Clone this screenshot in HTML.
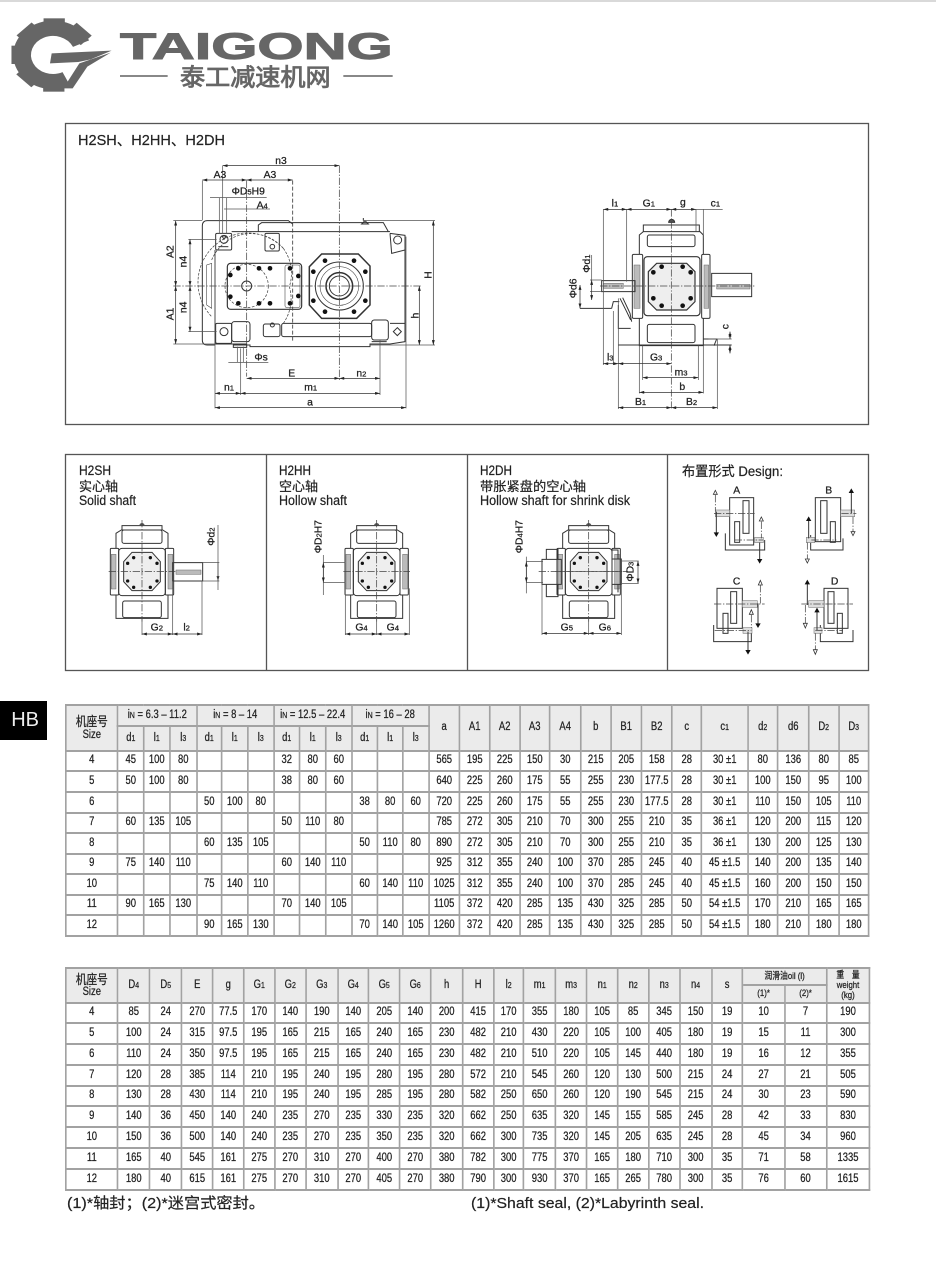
<!DOCTYPE html>
<html lang="zh"><head><meta charset="utf-8"><title>H2SH H2HH H2DH</title>
<style>
html,body{margin:0;padding:0;background:#fff}
#p{position:relative;width:936px;height:1274px;overflow:hidden;background:#fff;filter:blur(.35px);font-family:"Liberation Sans","Noto Sans CJK SC",sans-serif;color:#222}
svg{position:absolute;left:0;top:0}
text{font-family:"Liberation Sans","Noto Sans CJK SC",sans-serif;fill:#222;stroke:#222;stroke-width:.2}
.z{fill:none;stroke:#333;stroke-width:3}
.z text{font-size:31px;stroke:#222;stroke-width:.8}
.z text tspan{font-size:23px}
.t{stroke-width:2.2;stroke:#555}
.c{stroke-width:2.2;stroke:#444;stroke-dasharray:22 5 4 5}
.h{stroke-width:2.6;stroke:#444;stroke-dasharray:12 6}
.d{stroke-width:2.2;stroke:#333;marker-start:url(#a);marker-end:url(#a)}
.k{fill:#111;stroke:none}
.g{fill:#bbb;stroke:#666;stroke-width:1.5}
.o{fill:#fff;stroke:#333;stroke-width:2.4}
table{position:absolute;left:65px;border-collapse:collapse;table-layout:fixed;transform:scaleX(.82);transform-origin:0 0;font-size:11.5px;line-height:1;color:#222;-webkit-text-stroke:.25px #222}
td{border:2px solid #a2a2a2;padding:0;text-align:center;vertical-align:middle;overflow:hidden;white-space:nowrap}
tr.h1 td,td.q{background:#ebebeb}
sub{font-size:8.5px;vertical-align:baseline}
.cn{font-size:13px;line-height:14px}
.sm{font-size:9.5px;line-height:10px}
#hb{position:absolute;left:0;top:701px;width:47px;height:39px;background:#000;color:#eee;font-size:20px;line-height:39px;text-align:right}
#hb span{display:block;padding-right:8px}
</style></head><body><div id="p">
<svg width="936" height="1274" viewBox="0 0 936 1274">
<defs>
<marker id="a" viewBox="0 0 10 6" refX="10" refY="3" markerWidth="7" markerHeight="4" orient="auto-start-reverse"><path d="M0 0L10 3L0 6z" fill="#222"/></marker>
<g id="sg">
<path d="M-60 -125V-138H60V-125M-78 -70V-115L-62 -125H62L78 -115V-70M-78 70V140H78V70"/>
<path class="k" d="M-8 -138a8 8 0 0 1 16 0z" style="fill:#555"/>
<rect x="-60" y="-125" width="120" height="40" rx="6"/>
<rect x="-58" y="88" width="116" height="50" rx="6"/>
<rect x="-95" y="-70" width="25" height="140" rx="3"/>
<rect x="70" y="-70" width="25" height="140" rx="3"/>
<rect class="g" x="-92" y="-52" width="14" height="104"/>
<rect class="g" x="78" y="-52" width="14" height="104"/>
<rect x="-70" y="-70" width="140" height="142" rx="10"/>
<path d="M-30 -58H30L55 -30V30L30 57H-30L-55 30V-30z" fill="#eee"/>
<g class="k"><circle cx="-25" cy="-42" r="5"/><circle cx="25" cy="-42" r="5"/><circle cx="-43" cy="-25" r="5"/><circle cx="45" cy="-25" r="5"/><circle cx="-43" cy="28" r="5"/><circle cx="45" cy="28" r="5"/><circle cx="-25" cy="47" r="5"/><circle cx="25" cy="47" r="5"/></g>
<path class="c" d="M0 -155V150M-100 0H100"/>
</g>
</defs>

<!-- top band and frames -->
<rect x="0" y="0" width="936" height="2" fill="#d9d9d9"/>
<g fill="none" stroke="#555" stroke-width="1.3">
<rect x="65.5" y="123.5" width="803" height="301"/>
<rect x="65.5" y="454.5" width="803" height="216"/>
<path d="M266.5 454V671M467.5 454V671M667.5 454V671"/>
</g>

<!-- logo -->
<g transform="scale(.33333)">
<g fill="#666">
<g transform="translate(162 165) scale(1.16 1) translate(-162 -165)">
<path d="M232 131A80 80 0 1 0 194 237" fill="none" stroke="#666" stroke-width="46"/>
<rect x="135" y="55" width="55" height="40"/>
<rect x="135" y="55" width="55" height="40" transform="rotate(45 162 165)"/>
<rect x="135" y="55" width="55" height="40" transform="rotate(-45 162 165)"/>
<rect x="135" y="55" width="55" height="40" transform="rotate(-90 162 165)"/>
<rect x="135" y="55" width="55" height="40" transform="rotate(-135 162 165)"/>
<rect x="135" y="55" width="55" height="40" transform="rotate(180 162 165)"/>
</g>
<path d="M155 160L335 152L272 178L235 186L150 190z"/>
<path d="M238 190L332 158L262 200L218 265H190z"/>
</g>
<text x="360" y="177" font-size="112" font-weight="700" textLength="818" lengthAdjust="spacingAndGlyphs" style="fill:#666;stroke:#666;stroke-width:3">TAIGONG</text>
<text x="540" y="256" font-size="72" textLength="452" lengthAdjust="spacingAndGlyphs" style="fill:#666;stroke:#666;stroke-width:2.5">泰工减速机网</text>
<path d="M360 228H503M1030 228H1178" stroke="#777" stroke-width="5" fill="none"/>
</g>

<!-- panel headings -->
<text x="78" y="145" font-size="15" textLength="147" lengthAdjust="spacingAndGlyphs">H2SH、H2HH、H2DH</text>
<g font-size="13.5">
<text x="79" y="475" textLength="32" lengthAdjust="spacingAndGlyphs">H2SH</text>
<text x="79" y="491" font-size="13" textLength="39" lengthAdjust="spacingAndGlyphs">实心轴</text>
<text x="79" y="505" textLength="57" lengthAdjust="spacingAndGlyphs">Solid shaft</text>
<text x="279" y="475" textLength="32" lengthAdjust="spacingAndGlyphs">H2HH</text>
<text x="279" y="491" font-size="13" textLength="39" lengthAdjust="spacingAndGlyphs">空心轴</text>
<text x="279" y="505" textLength="68" lengthAdjust="spacingAndGlyphs">Hollow shaft</text>
<text x="480" y="475" textLength="32" lengthAdjust="spacingAndGlyphs">H2DH</text>
<text x="480" y="491" font-size="13" textLength="106" lengthAdjust="spacingAndGlyphs">带胀紧盘的空心轴</text>
<text x="480" y="505" textLength="150" lengthAdjust="spacingAndGlyphs">Hollow shaft for shrink disk</text>
<text x="682" y="476" textLength="101" lengthAdjust="spacingAndGlyphs">布置形式 Design:</text>
</g>

<!-- main front view -->
<g class="z" transform="translate(150,150) scale(.33333)">
<path d="M195 585H172Q157 585 157 570V228Q157 212 172 212H415L428 222"/>
<path d="M325 245V225L335 218H700L715 245M245 245H720M720 250L765 256V300L725 310L720 250"/>
<path d="M765 300V575L720 582H660V590H300V585H250M195 300V582H250"/>
<rect x="197" y="250" width="48" height="50" rx="4"/><circle cx="222" cy="268" r="12"/><path d="M222 268l6 -10h-12z"/><path d="M205 290h30"/>
<rect x="345" y="250" width="43" height="53" rx="4"/><circle cx="367" cy="290" r="7"/>
<circle cx="743" cy="270" r="12"/>
<rect x="197" y="520" width="48" height="60" rx="4"/><circle cx="222" cy="545" r="12"/>
<path d="M720 520H765V575M742 533l12 12l-12 12l-12 -12z"/>
<rect x="245" y="515" width="55" height="60" rx="8"/>
<rect x="340" y="522" width="50" height="38" rx="6"/><circle cx="367" cy="525" r="6"/>
<rect x="395" y="520" width="270" height="40" rx="6"/>
<rect x="665" y="510" width="50" height="60" rx="8"/>
<path d="M250 582H290V592H250zM665 575H710"/>
<path class="c" d="M400 295A128 128 0 0 0 185 500M400 295A128 128 0 0 1 418 410A128 128 0 0 1 400 520M185 330A128 128 0 0 1 400 295" style="stroke-dasharray:8 4"/>
<circle class="c" cx="290" cy="408" r="65" style="stroke-dasharray:8 5"/>
<path d="M170 345L185 340V475L170 465z" stroke-width="1.6"/>
<circle cx="290" cy="408" r="15"/>
<rect x="232" y="340" width="223" height="138" rx="10" stroke-width="3.5"/>
<rect x="405" y="345" width="45" height="128" rx="6" stroke-width="1.6"/>
<g class="k"><circle cx="265" cy="355" r="7"/><circle cx="327" cy="355" r="7"/><circle cx="360" cy="355" r="7"/><circle cx="420" cy="355" r="7"/><circle cx="241" cy="375" r="7"/><circle cx="445" cy="378" r="7"/><circle cx="241" cy="440" r="7"/><circle cx="445" cy="438" r="7"/><circle cx="265" cy="460" r="7"/><circle cx="327" cy="460" r="7"/><circle cx="360" cy="460" r="7"/><circle cx="420" cy="460" r="7"/></g>
<path d="M515 312H625L660 348V465L620 505H515L478 465V350z" stroke-width="4.5"/>
<circle cx="568" cy="408" r="72"/><circle cx="568" cy="408" r="58" stroke-width="1.6"/><circle cx="568" cy="408" r="40" stroke-width="4.5"/><circle cx="568" cy="408" r="30"/>
<g class="k"><circle cx="525" cy="332" r="7"/><circle cx="612" cy="332" r="7"/><circle cx="490" cy="365" r="7"/><circle cx="646" cy="365" r="7"/><circle cx="490" cy="452" r="7"/><circle cx="646" cy="452" r="7"/><circle cx="525" cy="485" r="7"/><circle cx="612" cy="485" r="7"/></g>
<path d="M645 212l-10 10h20zM640 212v-8"/>
<!-- centre and extension lines -->
<path class="c" d="M70 408H815M290 92V680M568 47V690"/>
<path class="h" d="M428 92V575"/>
<path class="t" d="M157 92V210M218 47V250M230 143V250M208 143V250M195 300V775M768 260V775M272 595V735M690 570V735M70 212H157M640 212H855M70 582H195M660 585H855M115 268H200M115 545H200M235 637H355M262 590V637M280 590V637"/>
<!-- dimensions -->
<path class="d" d="M218 47H568"/><path class="d" d="M157 90H290"/><path class="d" d="M290 90H428"/>
<path class="t" d="M180 143H350"/><path class="t" d="M222 177H360"/>
<path class="d" d="M77 212V408"/><path class="d" d="M77 408V582"/><path class="d" d="M120 268V408"/><path class="d" d="M120 408V545"/>
<path class="d" d="M850 212V585"/><path class="d" d="M808 408V585"/>
<path class="d" d="M290 685H568"/><path class="d" d="M568 685H690"/><path class="d" d="M195 730H272"/><path class="d" d="M272 730H690"/><path class="d" d="M195 773H768"/>
<text x="393" y="42" text-anchor="middle">n3</text>
<text x="210" y="84" text-anchor="middle">A3</text><text x="360" y="84" text-anchor="middle">A3</text>
<text x="245" y="133">ΦD<tspan>5</tspan>H9</text>
<text x="320" y="176">A<tspan>4</tspan></text>
<text x="313" y="632">Φs</text>
<text x="425" y="680" text-anchor="middle">E</text><text x="634" y="680" text-anchor="middle">n<tspan>2</tspan></text>
<text x="237" y="722" text-anchor="middle">n<tspan>1</tspan></text><text x="482" y="722" text-anchor="middle">m<tspan>1</tspan></text>
<text x="480" y="767" text-anchor="middle">a</text>
<text transform="translate(70,305) rotate(-90)" text-anchor="middle">A2</text>
<text transform="translate(70,492) rotate(-90)" text-anchor="middle">A1</text>
<text transform="translate(110,335) rotate(-90)" text-anchor="middle">n4</text>
<text transform="translate(110,472) rotate(-90)" text-anchor="middle">n4</text>
<text transform="translate(845,375) rotate(-90)" text-anchor="middle">H</text>
<text transform="translate(805,497) rotate(-90)" text-anchor="middle">h</text>
</g>

<!-- side view -->
<g class="z" transform="translate(560,185) scale(.33333)">
<path d="M250 140V120H418V140"/><path d="M326 112a9 9 0 0 1 18 0z" style="fill:#555"/>
<path d="M238 208V150L250 140H420L430 150V208M238 400V482H430V400"/>
<rect x="262" y="150" width="143" height="35" rx="6"/>
<rect x="262" y="418" width="143" height="55" rx="6"/>
<rect x="217" y="208" width="31" height="192" rx="4"/><rect x="425" y="208" width="25" height="192" rx="4"/>
<rect class="g" x="222" y="240" width="18" height="130"/><rect class="g" x="432" y="240" width="14" height="130"/>
<rect x="252" y="215" width="168" height="177" rx="10" stroke-width="3.5"/>
<path d="M290 235H380L405 260V350L380 375H290L265 350V260z" stroke-width="3.5" fill="#eee"/>
<g class="k"><circle cx="280" cy="262" r="7"/><circle cx="392" cy="262" r="7"/><circle cx="280" cy="340" r="7"/><circle cx="392" cy="340" r="7"/><circle cx="305" cy="245" r="7"/><circle cx="368" cy="245" r="7"/><circle cx="305" cy="362" r="7"/><circle cx="368" cy="362" r="7"/></g>
<path d="M125 287H225V320H125z"/><rect class="g" x="130" y="295" width="60" height="15"/>
<path d="M455 265H575V335H455z"/><rect class="g" x="470" y="298" width="100" height="14"/>
<path d="M180 340L200 380L212 405M188 338L210 385L215 410M175 360V430H212"/>
<path d="M155 370L160 350H178M60 370H155M430 462H470L462 482M175 480H515"/>
<path class="c" d="M120 303H585M334 73V670"/>
<path class="t" d="M130 73V540M200 73V290M408 73V140M430 73V160M430 482V625M175 340V672M160 378V540M248 482V585M415 482V585M238 482V625M472 462V672M90 285H125M90 320H125M445 462H515"/>
<path class="d" d="M130 73H200"/><path class="d" d="M200 73H334"/><path class="d" d="M334 73H408"/><path class="t" d="M408 73H488"/>
<path class="d" d="M95 285V345" style="marker-start:url(#a)"/><path class="t" d="M95 210V285"/>
<path class="d" d="M60 300V370"/>
<path class="d" d="M510 440V462"/><path class="d" d="M510 480V505"/>
<path class="d" d="M130 536H175"/><path class="d" d="M175 536H334"/>
<path class="d" d="M248 578H415"/><path class="d" d="M238 622H430"/>
<path class="d" d="M175 668H334"/><path class="d" d="M334 668H472"/>
<text x="155" y="65">l<tspan>1</tspan></text><text x="248" y="65">G<tspan>1</tspan></text><text x="360" y="62">g</text><text x="452" y="65">c<tspan>1</tspan></text>
<text x="141" y="527">l<tspan>3</tspan></text><text x="270" y="527">G<tspan>3</tspan></text>
<text x="344" y="572">m<tspan>3</tspan></text><text x="358" y="615">b</text>
<text x="225" y="660">B<tspan>1</tspan></text><text x="378" y="660">B<tspan>2</tspan></text>
<text transform="translate(90,236) rotate(-90)" text-anchor="middle">Φd<tspan>1</tspan></text>
<text transform="translate(50,310) rotate(-90)" text-anchor="middle">Φd6</text>
<text transform="translate(506,425) rotate(-90)" text-anchor="middle">c</text>
</g>

<!-- small views H2SH / H2HH -->
<g class="z" transform="translate(66,455) scale(.33333)">
<use href="#sg" transform="translate(228,350)"/>
<path d="M320 323H410V378H320z"/><rect class="g" x="330" y="345" width="75" height="13"/>
<path class="t" d="M228 490V540M320 378V540M408 378V540M410 323H460M410 378H460"/>
<path class="d" d="M228 537H320"/><path class="d" d="M320 537H408"/>
<path class="d" d="M456 323V378" style="marker-start:none"/><path class="t" d="M456 210V405"/>
<text x="254" y="527">G<tspan>2</tspan></text><text x="352" y="527">l<tspan>2</tspan></text>
<text transform="translate(446,245) rotate(-90)" text-anchor="middle">Φd<tspan>2</tspan></text>

<use href="#sg" transform="translate(932,350)"/>
<path class="t" d="M772 323H838M772 382H838M838 400V540M1030 400V540M932 490V540"/>
<path class="t" d="M772 300V420"/><path class="d" d="M772 323V382"/>
<path class="d" d="M838 537H932"/><path class="d" d="M932 537H1030"/>
<text x="868" y="527">G<tspan>4</tspan></text><text x="962" y="527">G<tspan>4</tspan></text>
<text transform="translate(766,245) rotate(-90)" text-anchor="middle">ΦD<tspan>2</tspan>H7</text>
</g>

<!-- small view H2DH and designs -->
<g class="z" transform="translate(468,455) scale(.33333)">
<use href="#sg" transform="translate(362,350)"/>
<path d="M222 313H280V388H222zM235 283H270V313H235zM235 388H270V425H235zM432 312H460V388H432zM432 285H450V312M432 388H450V412"/>
<path class="c" d="M212 350H480"/>
<path class="t" d="M175 320H225M175 382H225M462 318H512M462 385H512M222 388V540M460 388V540M362 490V540"/>
<path class="t" d="M175 305V415"/><path class="d" d="M175 320V382"/><path class="d" d="M510 318V385"/>
<path class="d" d="M222 535H362"/><path class="d" d="M362 535H460"/>
<text x="278" y="527">G<tspan>5</tspan></text><text x="392" y="527">G<tspan>6</tspan></text>
<text transform="translate(163,245) rotate(-90)" text-anchor="middle">ΦD<tspan>4</tspan>H7</text>
<text transform="translate(497,350) rotate(-90)" text-anchor="middle">ΦD<tspan>3</tspan></text>

<!-- design A -->
<g>
<rect x="785" y="128" width="72" height="142"/><rect x="825" y="137" width="18" height="98"/><rect x="800" y="200" width="15" height="62"/>
<path d="M772 235V285H890V255"/><rect class="g" x="742" y="165" width="43" height="20" style="fill:#ddd"/><rect class="g" x="860" y="247" width="26" height="16" style="fill:#ddd"/>
<path class="c" d="M738 175H860M800 255H885M742 120V170M880 200V250"/>
<path d="M745 170V235M875 262V315"/>
<path class="k" d="M737 232H753L745 246zM867 312H883L875 326z"/>
<path class="o" d="M736 118H748L742 106zM874 198H886L880 186z"/>
<text x="806" y="115" text-anchor="middle">A</text>
<!-- B -->
<rect x="1042" y="128" width="76" height="132"/><rect x="1058" y="137" width="19" height="98"/><rect x="1087" y="200" width="15" height="62"/>
<path d="M1028 240V285H1125V250"/><rect class="g" x="1118" y="165" width="42" height="20" style="fill:#ddd"/><rect class="g" x="1015" y="247" width="25" height="16" style="fill:#ddd"/>
<path class="c" d="M1030 255H1105M1120 175H1165M1155 185V230M1018 262V312"/>
<path d="M1150 110V175M1022 195V250"/>
<path class="k" d="M1142 114H1158L1150 100zM1014 198H1030L1022 184z"/>
<path class="o" d="M1149 230H1161L1155 242zM1012 312H1024L1018 324z"/>
<text x="1082" y="115" text-anchor="middle">B</text>
<!-- C -->
<rect x="747" y="400" width="76" height="120"/><rect x="788" y="410" width="18" height="95"/><rect x="765" y="475" width="15" height="60"/>
<path d="M737 510V560H850V535"/><rect class="g" x="823" y="437" width="45" height="20" style="fill:#ddd"/><rect class="g" x="825" y="518" width="27" height="17" style="fill:#ddd"/>
<path class="c" d="M738 447H890M740 527H850M877 390V445M850 480V518"/>
<path d="M870 445V508M840 530V588"/>
<path class="k" d="M862 505H878L870 519zM832 585H848L840 599z"/>
<path class="o" d="M871 390H883L877 376zM844 478H856L850 464z"/>
<text x="806" y="388" text-anchor="middle">C</text>
<!-- D -->
<rect x="1068" y="400" width="72" height="120"/><rect x="1080" y="410" width="18" height="95"/><rect x="1108" y="475" width="15" height="60"/>
<path d="M1057 510V560H1155V525"/><rect class="g" x="1022" y="437" width="46" height="20" style="fill:#ddd"/><rect class="g" x="1038" y="518" width="24" height="17" style="fill:#ddd"/>
<path class="c" d="M1000 447H1155M1042 527H1125M1012 450V505M1042 535V585"/>
<path d="M1018 385V450M1047 470V525"/>
<path class="k" d="M1010 388H1026L1018 374zM1039 472H1055L1047 458z"/>
<path class="o" d="M1006 505H1018L1012 519zM1036 584H1048L1042 598z"/>
<text x="1100" y="388" text-anchor="middle">D</text>
</g>
</g>

<!-- footnotes -->
<text x="67" y="1208" font-size="15" textLength="198" lengthAdjust="spacingAndGlyphs">(1)*轴封；(2)*迷宫式密封。</text>
<text x="471" y="1208" font-size="15" textLength="233" lengthAdjust="spacingAndGlyphs">(1)*Shaft seal, (2)*Labyrinth seal.</text>
</svg>

<div id="hb"><span>HB</span></div>

<table style="top:704px;width:979.3px">
<colgroup><col style="width:63.4px"><col style="width:31.7px"><col style="width:31.7px"><col style="width:32.9px"><col style="width:30.5px"><col style="width:31.7px"><col style="width:31.7px"><col style="width:31.7px"><col style="width:31.7px"><col style="width:31.7px"><col style="width:31.7px"><col style="width:30.5px"><col style="width:31.7px"><col style="width:37.8px"><col style="width:36.6px"><col style="width:36.6px"><col style="width:36.6px"><col style="width:37.8px"><col style="width:36.6px"><col style="width:37.8px"><col style="width:36.6px"><col style="width:36.6px"><col style="width:56.1px"><col style="width:36.6px"><col style="width:37.8px"><col style="width:36.6px"><col style="width:36.6px"></colgroup>
<tr class="h1" style="height:21px"><td rowspan="2"><span class="cn">机座号</span><br>Size<td colspan="3">i<sub>N</sub> = 6.3 – 11.2<td colspan="3">i<sub>N</sub> = 8 – 14<td colspan="3">i<sub>N</sub> = 12.5 – 22.4<td colspan="3">i<sub>N</sub> = 16 – 28<td rowspan="2">a<td rowspan="2">A1<td rowspan="2">A2<td rowspan="2">A3<td rowspan="2">A4<td rowspan="2">b<td rowspan="2">B1<td rowspan="2">B2<td rowspan="2">c<td rowspan="2">c<sub>1</sub><td rowspan="2">d<sub>2</sub><td rowspan="2">d6<td rowspan="2">D<sub>2</sub><td rowspan="2">D<sub>3</sub></tr>
<tr class="h1" style="height:25px"><td>d<sub>1</sub><td>l<sub>1</sub><td>l<sub>3</sub><td>d<sub>1</sub><td>l<sub>1</sub><td>l<sub>3</sub><td>d<sub>1</sub><td>l<sub>1</sub><td>l<sub>3</sub><td>d<sub>1</sub><td>l<sub>1</sub><td>l<sub>3</sub></tr>
<tr style="height:20px"><td>4<td>45<td>100<td>80<td><td><td><td>32<td>80<td>60<td><td><td><td>565<td>195<td>225<td>150<td>30<td>215<td>205<td>158<td>28<td>30 ±1<td>80<td>136<td>80<td>85</tr>
<tr style="height:21px"><td>5<td>50<td>100<td>80<td><td><td><td>38<td>80<td>60<td><td><td><td>640<td>225<td>260<td>175<td>55<td>255<td>230<td>177.5<td>28<td>30 ±1<td>100<td>150<td>95<td>100</tr>
<tr style="height:21px"><td>6<td><td><td><td>50<td>100<td>80<td><td><td><td>38<td>80<td>60<td>720<td>225<td>260<td>175<td>55<td>255<td>230<td>177.5<td>28<td>30 ±1<td>110<td>150<td>105<td>110</tr>
<tr style="height:20px"><td>7<td>60<td>135<td>105<td><td><td><td>50<td>110<td>80<td><td><td><td>785<td>272<td>305<td>210<td>70<td>300<td>255<td>210<td>35<td>36 ±1<td>120<td>200<td>115<td>120</tr>
<tr style="height:21px"><td>8<td><td><td><td>60<td>135<td>105<td><td><td><td>50<td>110<td>80<td>890<td>272<td>305<td>210<td>70<td>300<td>255<td>210<td>35<td>36 ±1<td>130<td>200<td>125<td>130</tr>
<tr style="height:20px"><td>9<td>75<td>140<td>110<td><td><td><td>60<td>140<td>110<td><td><td><td>925<td>312<td>355<td>240<td>100<td>370<td>285<td>245<td>40<td>45 ±1.5<td>140<td>200<td>135<td>140</tr>
<tr style="height:21px"><td>10<td><td><td><td>75<td>140<td>110<td><td><td><td>60<td>140<td>110<td>1025<td>312<td>355<td>240<td>100<td>370<td>285<td>245<td>40<td>45 ±1.5<td>160<td>200<td>150<td>150</tr>
<tr style="height:20px"><td>11<td>90<td>165<td>130<td><td><td><td>70<td>140<td>105<td><td><td><td>1105<td>372<td>420<td>285<td>135<td>430<td>325<td>285<td>50<td>54 ±1.5<td>170<td>210<td>165<td>165</tr>
<tr style="height:21px"><td>12<td><td><td><td>90<td>165<td>130<td><td><td><td>70<td>140<td>105<td>1260<td>372<td>420<td>285<td>135<td>430<td>325<td>285<td>50<td>54 ±1.5<td>180<td>210<td>180<td>180</tr>
</table>

<table style="top:967px;width:980.5px">
<colgroup><col style="width:63.4px"><col style="width:39px"><col style="width:39px"><col style="width:37.8px"><col style="width:37.8px"><col style="width:37.8px"><col style="width:37.8px"><col style="width:39px"><col style="width:37.8px"><col style="width:37.8px"><col style="width:37.8px"><col style="width:39px"><col style="width:37.8px"><col style="width:36.6px"><col style="width:39px"><col style="width:37.8px"><col style="width:37.8px"><col style="width:37.8px"><col style="width:37.8px"><col style="width:39px"><col style="width:37.8px"><col style="width:51.2px"><col style="width:51.2px"><col style="width:52.4px"></colgroup>
<tr class="h1" style="height:17px"><td rowspan="2"><span class="cn">机座号</span><br>Size<td rowspan="2">D<sub>4</sub><td rowspan="2">D<sub>5</sub><td rowspan="2">E<td rowspan="2">g<td rowspan="2">G<sub>1</sub><td rowspan="2">G<sub>2</sub><td rowspan="2">G<sub>3</sub><td rowspan="2">G<sub>4</sub><td rowspan="2">G<sub>5</sub><td rowspan="2">G<sub>6</sub><td rowspan="2">h<td rowspan="2">H<td rowspan="2">l<sub>2</sub><td rowspan="2">m<sub>1</sub><td rowspan="2">m<sub>3</sub><td rowspan="2">n<sub>1</sub><td rowspan="2">n<sub>2</sub><td rowspan="2">n<sub>3</sub><td rowspan="2">n<sub>4</sub><td rowspan="2">s<td colspan="2" class="sm">润滑油oil (l)<td rowspan="2" class="sm">重　量<br>weight<br>(kg)</tr>
<tr class="h1" style="height:18px"><td class="sm">(1)*<td class="sm">(2)*</tr>
<tr style="height:20px"><td>4<td>85<td>24<td>270<td>77.5<td>170<td>140<td>190<td>140<td>205<td>140<td>200<td>415<td>170<td>355<td>180<td>105<td>85<td>345<td>150<td>19<td>10<td>7<td>190</tr>
<tr style="height:21px"><td>5<td>100<td>24<td>315<td>97.5<td>195<td>165<td>215<td>165<td>240<td>165<td>230<td>482<td>210<td>430<td>220<td>105<td>100<td>405<td>180<td>19<td>15<td>11<td>300</tr>
<tr style="height:21px"><td>6<td>110<td>24<td>350<td>97.5<td>195<td>165<td>215<td>165<td>240<td>165<td>230<td>482<td>210<td>510<td>220<td>105<td>145<td>440<td>180<td>19<td>16<td>12<td>355</tr>
<tr style="height:21px"><td>7<td>120<td>28<td>385<td>114<td>210<td>195<td>240<td>195<td>280<td>195<td>280<td>572<td>210<td>545<td>260<td>120<td>130<td>500<td>215<td>24<td>27<td>21<td>505</tr>
<tr style="height:20px"><td>8<td>130<td>28<td>430<td>114<td>210<td>195<td>240<td>195<td>285<td>195<td>280<td>582<td>250<td>650<td>260<td>120<td>190<td>545<td>215<td>24<td>30<td>23<td>590</tr>
<tr style="height:21px"><td>9<td>140<td>36<td>450<td>140<td>240<td>235<td>270<td>235<td>330<td>235<td>320<td>662<td>250<td>635<td>320<td>145<td>155<td>585<td>245<td>28<td>42<td>33<td>830</tr>
<tr style="height:21px"><td>10<td>150<td>36<td>500<td>140<td>240<td>235<td>270<td>235<td>350<td>235<td>320<td>662<td>300<td>735<td>320<td>145<td>205<td>635<td>245<td>28<td>45<td>34<td>960</tr>
<tr style="height:21px"><td>11<td>165<td>40<td>545<td>161<td>275<td>270<td>310<td>270<td>400<td>270<td>380<td>782<td>300<td>775<td>370<td>165<td>180<td>710<td>300<td>35<td>71<td>58<td>1335</tr>
<tr style="height:21px"><td>12<td>180<td>40<td>615<td>161<td>275<td>270<td>310<td>270<td>405<td>270<td>380<td>790<td>300<td>930<td>370<td>165<td>265<td>780<td>300<td>35<td>76<td>60<td>1615</tr>
</table>
</div></body></html>
